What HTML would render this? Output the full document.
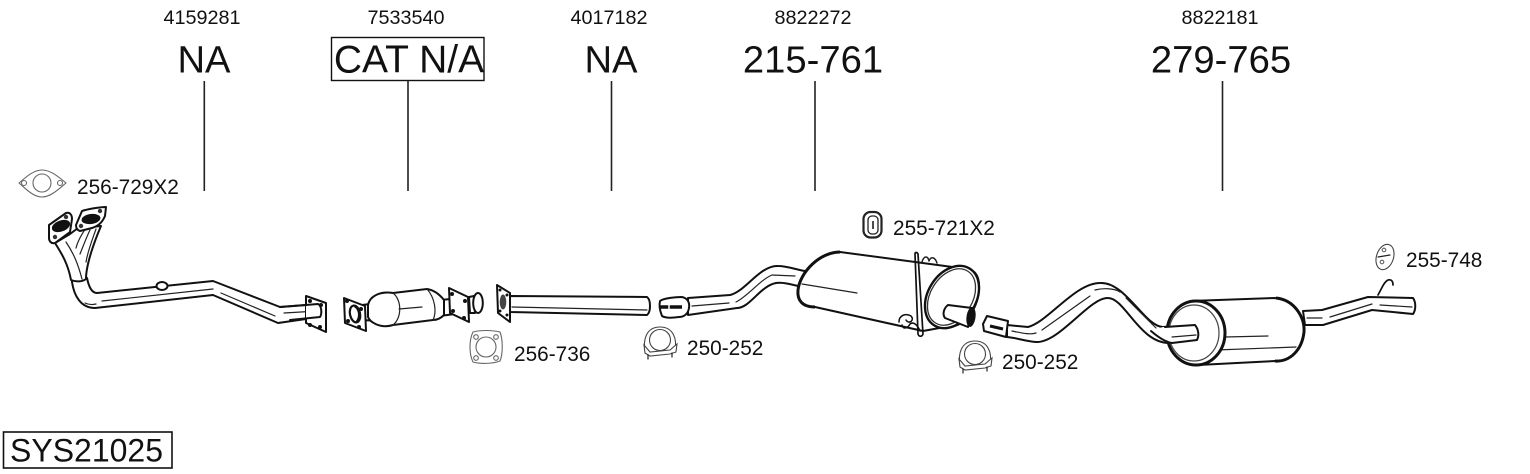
<!DOCTYPE html>
<html><head><meta charset="utf-8"><style>
html,body{margin:0;padding:0;background:#fff}
svg{display:block}
text{font-family:"Liberation Sans",sans-serif;fill:#111}
.n{font-size:19.8px;text-anchor:middle}
.b{font-size:38.2px;text-anchor:middle}
.l{font-size:20.8px}
.k{fill:none;stroke:#111;stroke-width:2;stroke-linecap:round;stroke-linejoin:round}
.t{fill:none;stroke:#222;stroke-width:1.200;stroke-linecap:round;stroke-linejoin:round}
.w{fill:#fff;stroke:#111;stroke-width:2;stroke-linejoin:round}
.g{fill:#fff;stroke:#666;stroke-width:1.100}
</style></head><body>
<svg width="1530" height="474" viewBox="0 0 1530 474" xmlns="http://www.w3.org/2000/svg">
<rect width="1530" height="474" fill="#fff"/>
<text class="n" x="202" y="24">4159281</text>
<text class="n" x="406" y="24">7533540</text>
<text class="n" x="609" y="24">4017182</text>
<text class="n" x="813" y="24">8822272</text>
<text class="n" x="1220" y="24">8822181</text>
<text class="b" x="204" y="72.300">NA</text>
<text class="b" x="409" y="72.300" style="font-size:39px">CAT N/A</text>
<text class="b" x="611" y="72.300">NA</text>
<text class="b" x="813" y="72.300">215-761</text>
<text class="b" x="1221" y="72.300">279-765</text>
<rect x="331.500" y="37.500" width="152.500" height="43" fill="none" stroke="#111" stroke-width="1.400"/>
<path stroke="#222" stroke-width="1.600" d="M204.300 81V191M408 81V191M611.500 81V191M815 81V191M1222.500 81V191"/>
<rect x="3.500" y="432" width="168.500" height="36" fill="none" stroke="#111" stroke-width="1.600"/>
<text x="10" y="461.500" style="font-size:32px">SYS21025</text>

<text class="l" x="77" y="194">256-729X2</text>
<text class="l" x="514" y="361">256-736</text>
<text class="l" x="687" y="355">250-252</text>
<text class="l" x="893" y="235">255-721X2</text>
<text class="l" x="1002" y="369">250-252</text>
<text class="l" x="1406" y="267">255-748</text>

<!-- gasket 256-729 -->
<path class="g" d="M19 183C25 178 33 170 42 170C51 170 60 178 66 183C60 188 51 197 42 197C33 197 25 188 19 183Z"/>
<circle class="g" cx="42" cy="183" r="9"/><circle class="g" cx="24" cy="183" r="2.500"/><circle class="g" cx="60" cy="183" r="2.500"/>

<!-- front pipe -->
<path class="w" d="M72 282C74 296 81 308 95 308L213 295L278 323L320 317L320 304L280 307L213 281L97 293C92 293 89 288 87 278L72 280Z"/>
<path class="w" d="M55 243C62 254 68 264 71 280C76 282 82 282 86 279C86 264 95 240 101 226L78 228L70 234Z"/>
<path class="t" d="M66 242C74 254 78 264 82 279M76 248C78 240 81 236 84 231M80 254C84 244 87 236 90 230M86 262C88 250 93 238 96 229"/>
<path class="t" d="M85 303C89 305 92 305 96 304M102 301L213 289M221 293L275 316M284 313L318 311"/>
<ellipse class="w" cx="162" cy="286" rx="5.500" ry="4"/>
<path class="w" d="M49 225L66 213C70 212 72 215 72 219L70 232L55 243C51 244 49 241 49 238Z"/>
<ellipse cx="61" cy="226" rx="9.500" ry="5.500" fill="#111" transform="rotate(-20 61 226)"/>
<circle cx="66" cy="217" r="2.200" fill="#333"/><circle cx="55" cy="237" r="2.200" fill="#333"/>
<path class="w" d="M76 225L82 211C88 209 100 207 106 207L105 216C102 223 98 226 92 228L80 231C77 230 76 228 76 225Z"/>
<ellipse cx="91" cy="219" rx="9.500" ry="5" fill="#111" transform="rotate(-8 91 219)"/>
<circle cx="100" cy="211" r="2.200" fill="#333"/><circle cx="81" cy="226" r="2.200" fill="#333"/>
<path class="w" d="M306 296L326 303L326 332L306 323Z"/>
<path d="M306 306L322 305C323 311 322 315 318 318L306 319Z" fill="#fff" stroke="none"/>
<circle cx="310" cy="301" r="2" fill="#111"/><circle cx="321" cy="305" r="2" fill="#111"/><circle cx="310" cy="325" r="2" fill="#111"/><circle cx="320" cy="327" r="2" fill="#111"/>
<path class="k" d="M280 307L318 304C322 306 322 314 320 317L290 320"/>

<!-- cat -->
<path class="w" d="M362 305L378 303L378 321L362 320Z"/>
<path class="w" d="M344 298L365 306L366 331L345 323Z"/>
<ellipse cx="355" cy="314" rx="5" ry="8.500" fill="#fff" stroke="#111" stroke-width="2.200" transform="rotate(-12 355 314)"/>
<path d="M355 306C360 309 361 317 357 322" stroke="#111" stroke-width="3" fill="none"/>
<circle cx="347" cy="301" r="2" fill="#111"/><circle cx="361" cy="309" r="2" fill="#111"/><circle cx="348" cy="321" r="2" fill="#111"/><circle cx="359" cy="327" r="2" fill="#111"/>
<path class="w" d="M440 300L462 298L462 313L440 316Z"/>
<path class="w" d="M368 305C370 295 382 291 393 293L427 289C434 290 440 295 444 300L444 315C440 319 436 320 433 320L393 325C380 329 370 322 368 317Z"/>
<path class="t" d="M393 293C402 300 402 318 393 325M427 289C435 298 437 312 433 320M399 309L422 307"/>
<path class="w" d="M449 288L468 297L469 322L450 313Z"/>
<circle cx="452" cy="294" r="2" fill="#111"/><circle cx="465" cy="301" r="2" fill="#111"/><circle cx="453" cy="311" r="2" fill="#111"/><circle cx="464" cy="318" r="2" fill="#111"/>
<path class="w" d="M469 297L474 296L475 313L470 313Z"/>
<ellipse class="w" cx="478" cy="303" rx="4.800" ry="10"/>

<!-- intermediate pipe -->
<path class="w" d="M510 296L647 297C651 300 651 312 647 315L510 312Z"/>
<path class="t" d="M512 307L647 310"/>
<path class="w" d="M497 285L510 293L510 322L498 313Z"/>
<ellipse cx="503" cy="302" rx="3.300" ry="7.500" fill="#444"/>
<circle cx="500" cy="290" r="1.500" fill="#111"/><circle cx="507" cy="295" r="1.500" fill="#111"/><circle cx="500" cy="311" r="1.500" fill="#111"/><circle cx="507" cy="315" r="1.500" fill="#111"/>

<!-- gasket 256-736 -->
<path class="g" d="M473 332C480 330 492 330 500 332C503 340 503 354 500 361C492 364 480 364 473 362C469 354 469 340 473 332Z"/>
<circle class="g" cx="486" cy="347" r="10"/><circle class="g" cx="476" cy="337" r="2.300"/><circle class="g" cx="496" cy="337" r="2.300"/><circle class="g" cx="476" cy="358" r="2.300"/><circle class="g" cx="496" cy="358" r="2.300"/>

<!-- clamps -->
<g id="c1">
<path d="M645 351C643 340 646 327 660 327C674 327 677 340 675 350L671 353L649 354Z" class="g" style="stroke:#444"/>
<circle class="g" cx="660" cy="340" r="10.500" style="stroke:#444"/>
<path class="g" style="stroke:#444" d="M644 345L650 352L670 350L677 344L676 352L670 354L650 356L645 353Z"/>
<path class="t" d="M648 355V359M672 353V357"/>
</g>
<g transform="translate(315,14)">
<path d="M645 351C643 340 646 327 660 327C674 327 677 340 675 350L671 353L649 354Z" class="g" style="stroke:#444"/>
<circle class="g" cx="660" cy="340" r="10.500" style="stroke:#444"/>
<path class="g" style="stroke:#444" d="M644 345L650 352L670 350L677 344L676 352L670 354L650 356L645 353Z"/>
<path class="t" d="M648 355V359M672 353V357"/>
</g>

<!-- mount 255-721 -->
<rect x="863.500" y="212" width="18" height="25.500" rx="7" fill="#fff" stroke="#222" stroke-width="2.200"/>
<rect x="868" y="216" width="10" height="18" rx="4" fill="#fff" stroke="#222" stroke-width="1.300"/>
<path d="M873 221V229" stroke="#111" stroke-width="1.500"/>

<!-- mid muffler -->
<path class="w" d="M688 298L730 295C745 292 760 265 778 266C788 266 797 270 805 271L802 287C790 284 782 282 776 283C760 286 750 308 737 308L688 315Z"/>
<path class="t" d="M692 306L729 303M736 302C748 296 760 280 772 275L795 276"/>
<path class="w" d="M660 301C664 298 676 297 682 297C687 298 690 302 689 308C688 314 684 317 679 317C672 318 665 318 662 316C660 311 659 305 660 301Z"/>
<path d="M660 307H682" stroke="#111" stroke-width="3.500"/>
<path d="M669 300V316" stroke="#fff" stroke-width="1.500"/>

<path class="w" d="M798 290C800 272 820 252 840 252L960 268C975 268 980 275 979 290C977 310 965 328 945 327L923 331L815 307C802 307 797 300 798 290Z"/>
<path d="M798 290C800 272 820 252 840 252" fill="none" stroke="#111" stroke-width="3"/>
<path d="M798 290C797 300 802 307 815 307" fill="none" stroke="#111" stroke-width="3"/>
<path class="t" d="M802 284L857 293"/>
<ellipse cx="952" cy="297" rx="24" ry="33.500" transform="rotate(32 952 297)" fill="#fff" stroke="#111" stroke-width="2.400"/>
<ellipse cx="951.500" cy="297" rx="21" ry="30.500" transform="rotate(32 951.500 297)" fill="#fff" stroke="#333" stroke-width="1.300"/>
<path class="w" d="M948 305L972 308L968 327L945 318C942 314 944 308 948 305Z"/>
<ellipse cx="971" cy="317" rx="4.500" ry="10" fill="#111" transform="rotate(8 971 317)"/>
<path class="k" d="M915 254C915 252 917 252 918 254L923 334C922 337 919 337 918 334Z" style="stroke-width:1.700"/>
<path class="t" style="stroke-width:1.500" d="M922 262C924 255 928 256 929 261C931 256 935 257 937 263"/>
<path class="k" style="stroke-width:1.500" d="M899 322C899 315 906 313 911 316C915 320 909 325 906 320M902 325C903 330 908 328 910 324C914 321 918 326 920 331"/>

<!-- rear pipe -->
<path class="w" d="M1007 325L1028 327C1048 322 1075 283 1100 283C1125 281 1145 327 1163 327L1195 325C1199 330 1199 336 1197 340L1170 343C1140 344 1125 298 1108 298C1090 297 1060 342 1037 342C1028 342 1018 338 1007 337Z"/>
<path class="t" d="M1012 331C1022 333 1030 335 1036 333M1042 330L1090 296M1095 290C1102 288 1114 288 1120 292M1126 298L1156 328M1172 337L1196 335"/>
<path class="w" d="M983 324L987 316L1008 321L1006 337L984 331Z"/>
<path d="M990 326L1003 329" stroke="#111" stroke-width="3"/>

<!-- rear muffler -->
<path class="w" d="M1190 301L1275 298C1295 300 1305 318 1304 332C1302 350 1290 362 1275 361L1198 365Z"/>
<path d="M1276 298C1295 300 1305 318 1304 332C1302 350 1290 362 1275 361" fill="none" stroke="#111" stroke-width="3"/>
<path class="t" d="M1225 337L1268 336M1216 350L1296 347"/>
<ellipse cx="1196" cy="333" rx="29" ry="32" fill="#fff" stroke="#111" stroke-width="3"/>
<ellipse cx="1194" cy="333" rx="25" ry="28" fill="#fff" stroke="#444" stroke-width="1.200"/>
<path d="M1163 327L1195 325C1199 330 1199 336 1197 340L1172 343C1165 340 1160 336 1153 330Z" fill="#fff"/>
<path class="k" d="M1165 327L1195 325C1199 330 1199 336 1197 340L1172 343C1165 342 1158 337 1151 331"/>
<path class="t" d="M1172 337L1196 335"/>

<!-- tail -->
<path class="w" d="M1303 311L1322 310L1368 297L1413 298C1416 302 1416 310 1413 314L1372 310L1323 325L1305 325Z"/>
<path class="t" d="M1307 318H1322M1330 317L1372 304M1380 305L1412 307"/>
<path class="k" d="M1378 295C1382 288 1384 282 1388 280C1392 279 1393 282 1393 285" style="stroke-width:1.700"/>

<!-- mount 255-748 -->
<ellipse class="g" cx="1385" cy="257" rx="8.500" ry="13" transform="rotate(18 1385 257)" style="stroke:#444"/>
<circle class="g" cx="1384" cy="250" r="1.800"/><circle class="g" cx="1382" cy="262" r="1.800"/>
<path class="t" d="M1378 257L1390 255"/>
</svg>
</body></html>
